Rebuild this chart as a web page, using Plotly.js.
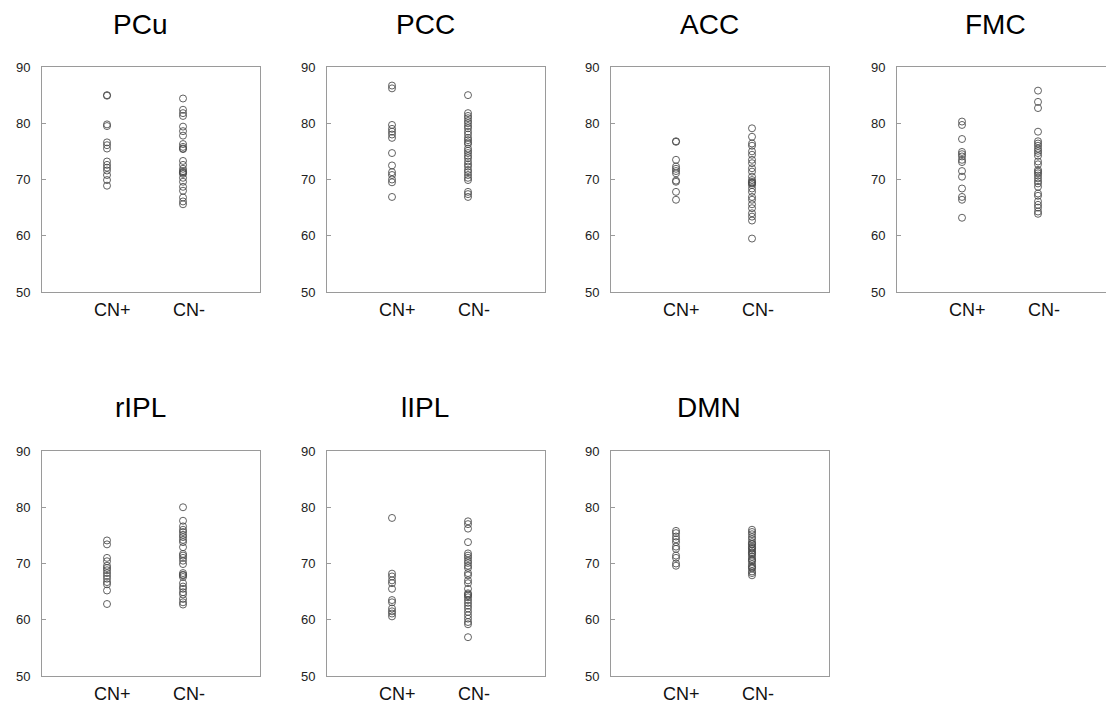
<!DOCTYPE html>
<html>
<head>
<meta charset="utf-8">
<script src="https://cdn.plot.ly/plotly-3.0.1.min.js"></script>
<style>html,body{margin:0;padding:0;background:#fff;} #chart{width:1106px;height:705px;}</style>
</head>
<body>
<div id="chart"></div>
<script>
// ---- data ----
const groups = ["CN+", "CN-"];
const regions = ["PCu", "PCC", "ACC", "FMC", "rIPL", "lIPL", "DMN"];

const pcuPos = [85.0, 84.9, 79.8, 79.5, 76.6, 76.1, 75.5, 73.2, 72.6, 72.1, 71.6, 70.8, 69.9, 68.9];
const pcuNeg = [84.4, 82.4, 81.8, 81.3, 79.4, 78.6, 77.8, 76.3, 75.8, 75.4, 75.5, 73.3, 72.6, 71.9, 71.5, 71.3, 71.0, 71.2, 70.3, 69.6, 68.7, 68.0, 66.8, 66.1, 65.6];
const pccPos = [86.7, 86.2, 79.7, 79.0, 78.5, 78.0, 77.4, 74.7, 72.5, 71.3, 70.8, 70.0, 69.5, 66.9];
const pccNeg = [85.0, 81.8, 81.3, 80.9, 80.4, 80.0, 79.5, 79.1, 78.5, 78.0, 77.4, 77.0, 76.6, 76.3, 75.5, 75.1, 74.7, 74.2, 73.8, 73.2, 72.7, 72.3, 71.7, 71.3, 70.8, 70.3, 69.9, 67.8, 67.4, 66.9];
const accPos = [76.8, 76.7, 73.5, 72.3, 71.9, 71.5, 71.1, 69.8, 69.6, 67.8, 66.4];
const accNeg = [79.1, 77.6, 76.4, 76.0, 75.0, 74.4, 73.5, 72.9, 72.0, 71.4, 70.5, 69.9, 69.6, 69.3, 69.0, 69.4, 68.4, 67.8, 66.9, 66.4, 65.6, 64.9, 64.0, 63.4, 62.7, 59.5];
const fmcPos = [80.3, 79.7, 77.2, 74.9, 74.5, 74.1, 73.5, 73.1, 71.5, 70.5, 68.4, 66.9, 66.4, 63.2];
const fmcNeg = [85.8, 83.8, 82.7, 78.5, 76.8, 76.4, 76.0, 75.5, 75.1, 74.7, 74.2, 73.2, 72.7, 71.7, 71.4, 71.1, 70.7, 70.2, 69.7, 69.3, 68.7, 67.5, 67.1, 66.1, 65.5, 65.0, 64.3, 63.9];
const riplPos = [74.1, 73.4, 71.0, 70.4, 69.6, 69.2, 68.8, 68.3, 67.8, 67.3, 66.7, 66.3, 65.2, 62.8];
const riplNeg = [80.0, 77.6, 76.6, 76.0, 75.6, 75.1, 74.7, 74.2, 73.8, 72.9, 71.7, 71.4, 71.0, 70.5, 69.9, 68.3, 68.0, 67.9, 67.6, 66.5, 65.9, 65.5, 64.9, 64.5, 63.7, 63.1, 62.7];
const liplPos = [78.1, 68.2, 67.7, 67.0, 66.5, 65.5, 63.5, 63.1, 62.0, 61.5, 61.1, 60.6];
const liplNeg = [77.5, 77.0, 76.2, 73.8, 71.8, 71.4, 71.0, 70.5, 70.1, 69.6, 69.2, 68.3, 67.9, 67.0, 66.5, 65.5, 64.7, 64.5, 64.3, 64.0, 63.5, 63.0, 62.5, 62.0, 61.4, 60.8, 60.2, 59.6, 59.2, 56.9];
const dmnPos = [75.8, 75.4, 74.8, 74.3, 73.8, 73.0, 72.6, 71.4, 71.0, 70.0, 69.6];
const dmnNeg = [76.0, 75.6, 75.2, 74.7, 74.3, 73.8, 73.5, 73.4, 73.0, 72.8, 72.6, 72.3, 72.0, 71.8, 71.6, 71.2, 70.8, 70.6, 70.4, 69.9, 69.5, 69.3, 69.1, 68.6, 68.3, 67.9];

const seriesPos = [pcuPos, pccPos, accPos, fmcPos, riplPos, liplPos, dmnPos];
const seriesNeg = [pcuNeg, pccNeg, accNeg, fmcNeg, riplNeg, liplNeg, dmnNeg];
const yTicks = [50, 60, 70, 80, 90];

// ---- layout geometry (pixels) ----
const W = 1106, H = 705;
const lefts = [42, 327, 611, 897];
const tops = [67, 451];
const pw = 218, ph = 225;
const ptPx = 65, stepPx = 76; // pixel offset of first group, px per group

const font = "Liberation Sans, Arial, Helvetica, sans-serif";
const traces = [];
const layout = {
  width: W, height: H,
  margin: {l: 0, r: 0, t: 0, b: 0},
  paper_bgcolor: "#fff", plot_bgcolor: "#fff",
  showlegend: false,
  font: {family: font, color: "#000"},
  annotations: []
};

regions.forEach((name, i) => {
  const row = Math.floor(i / 4), col = i % 4;
  const left = lefts[col], top = tops[row];
  const right = Math.min(left + pw, W);
  const wpx = right - left;
  const idx = i + 1;
  const xa = "x" + (idx === 1 ? "" : idx), ya = "y" + (idx === 1 ? "" : idx);
  const xk = "xaxis" + (idx === 1 ? "" : idx), yk = "yaxis" + (idx === 1 ? "" : idx);
  [seriesPos[i], seriesNeg[i]].forEach((vals, g) => {
    traces.push({
      type: "scatter", mode: "markers",
      x: vals.map(() => g + 1), y: vals,
      xaxis: xa, yaxis: ya,
      marker: {symbol: "circle-open", size: 7, color: "rgba(70,70,70,0.85)", line: {width: 1}},
      hoverinfo: "y"
    });
  });
  layout[xk] = {
    domain: [left / W, right / W],
    anchor: ya,
    range: [1 - ptPx / stepPx, 1 + (wpx - ptPx) / stepPx],
    tickvals: [1.07, 2.08], ticktext: groups,
    ticks: "", showgrid: false, zeroline: false,
    showline: true, mirror: true, linecolor: "#9a9a9a", linewidth: 1,
    tickfont: {size: 18, color: "#111", family: font},
    ticklabelstandoff: 1
  };
  layout[yk] = {
    domain: [1 - (top + ph) / H, 1 - top / H],
    anchor: xa,
    range: [50, 90], tickvals: yTicks,
    ticks: "inside", ticklen: 4, tickcolor: "#9a9a9a",
    showgrid: false, zeroline: false,
    showline: true, mirror: true, linecolor: "#9a9a9a", linewidth: 1,
    tickfont: {size: 13, color: "#222", family: font},
    ticklabelstandoff: 8
  };
  layout.annotations.push({
    text: name, showarrow: false,
    xref: "paper", yref: "paper",
    x: (left + 98) / W, y: 1 - (row === 0 ? 24 : 408) / H,
    xanchor: "center", yanchor: "middle",
    font: {size: 28, color: "#000", family: font}
  });
});

Plotly.newPlot("chart", traces, layout, {displayModeBar: false, staticPlot: true});
</script>
</body>
</html>
